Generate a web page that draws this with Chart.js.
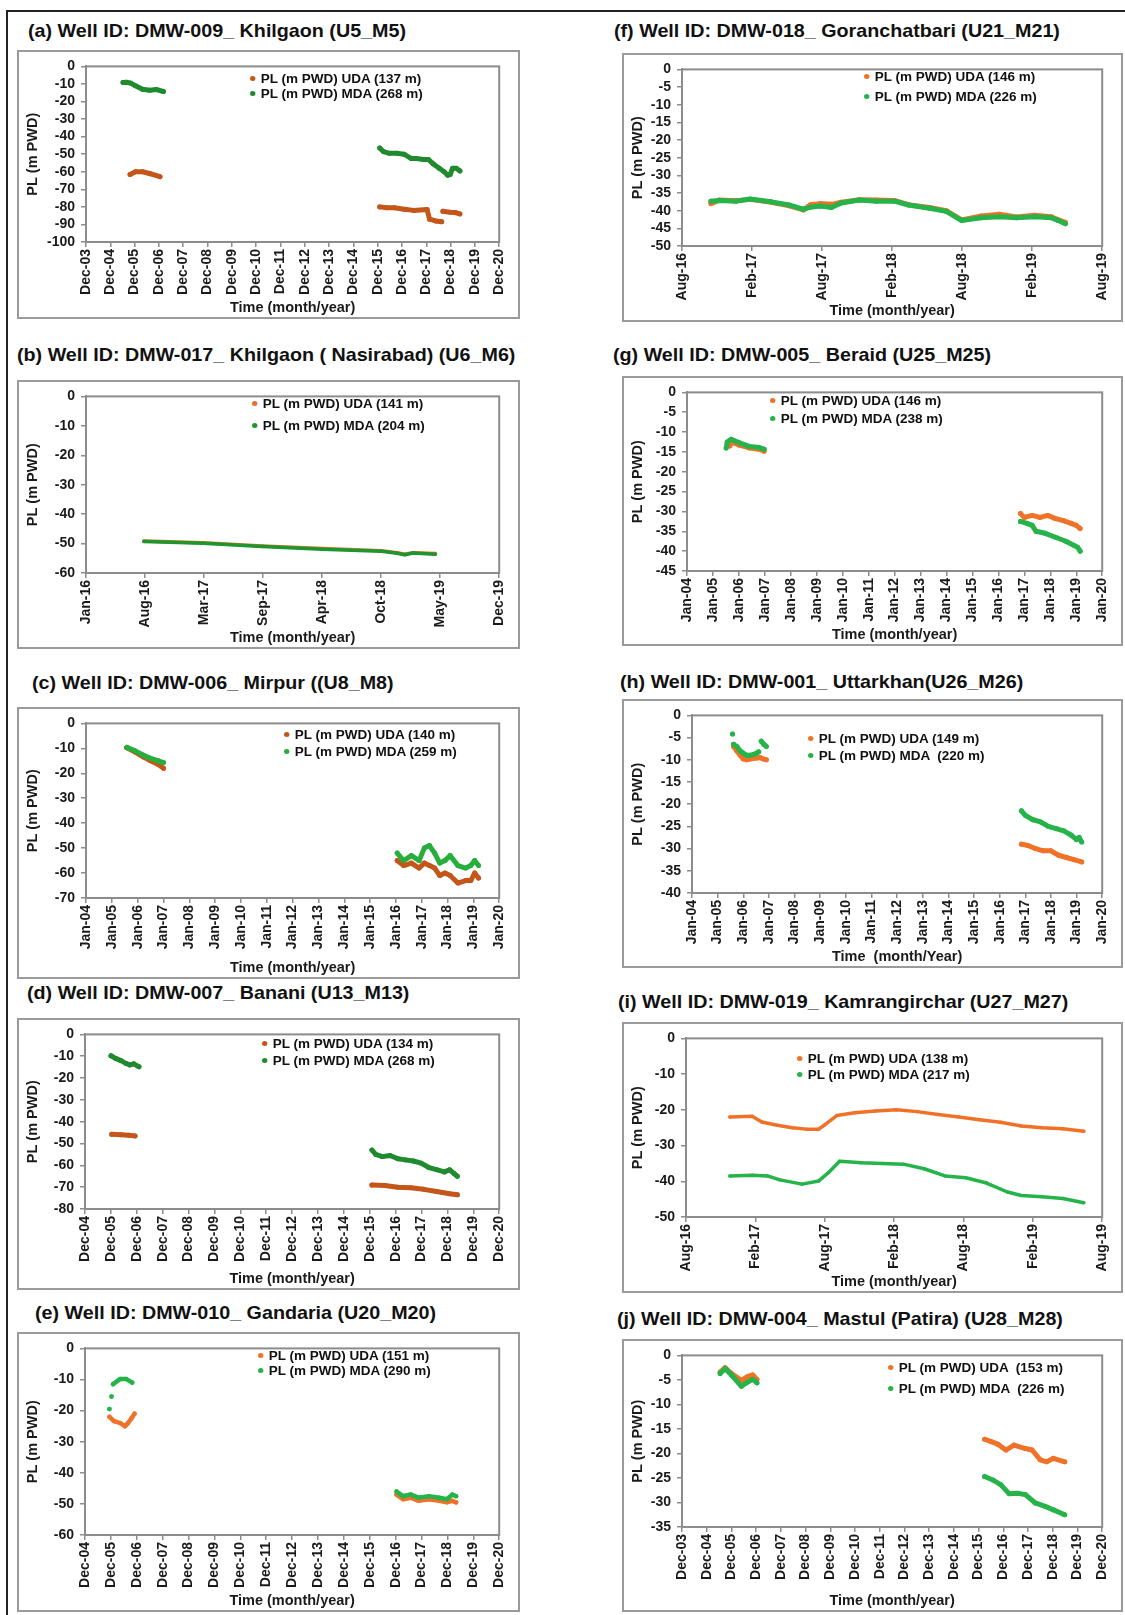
<!DOCTYPE html>
<html>
<head>
<meta charset="utf-8">
<script src="https://cdn.jsdelivr.net/npm/chart.js@4.4.1/dist/chart.umd.min.js"></script>
<style>
body { margin:0; background:#fff; width:1125px; height:1615px; position:relative; overflow:hidden; font-family:"Liberation Sans", Arial, sans-serif; }
#frame { position:absolute; left:6px; top:10px; width:1130px; height:1603px; border-left:2px solid #222; border-top:2px solid #222; border-bottom:2px solid #222; }
.ttl { position:absolute; font-weight:bold; font-size:18.5px; color:#111; white-space:pre; line-height:18px; transform:scaleX(1.065); transform-origin:0 50%; }
.box { position:absolute; border:2px solid #9a9a9a; box-sizing:border-box; background:#fff; }
.box canvas { position:absolute; left:0; top:0; }
.leg { position:absolute; font-weight:bold; font-size:12.5px; color:#111; white-space:pre; line-height:14px; transform:scaleX(1.08); transform-origin:0 50%; }
.leg i { display:inline-block; width:5px; height:5px; border-radius:50%; margin-right:5px; vertical-align:2px; }
</style>
</head>
<body>
<div id="frame"></div>
<script>
// tick labels
const DEC03_20 = ['Dec-03','Dec-04','Dec-05','Dec-06','Dec-07','Dec-08','Dec-09','Dec-10','Dec-11','Dec-12','Dec-13','Dec-14','Dec-15','Dec-16','Dec-17','Dec-18','Dec-19','Dec-20'];
const DEC04_20 = ['Dec-04','Dec-05','Dec-06','Dec-07','Dec-08','Dec-09','Dec-10','Dec-11','Dec-12','Dec-13','Dec-14','Dec-15','Dec-16','Dec-17','Dec-18','Dec-19','Dec-20'];
const JAN04_20 = ['Jan-04','Jan-05','Jan-06','Jan-07','Jan-08','Jan-09','Jan-10','Jan-11','Jan-12','Jan-13','Jan-14','Jan-15','Jan-16','Jan-17','Jan-18','Jan-19','Jan-20'];
const B_TICKS = ['Jan-16','Aug-16','Mar-17','Sep-17','Apr-18','Oct-18','May-19','Dec-19'];
const AUG16_19 = ['Aug-16','Feb-17','Aug-17','Feb-18','Aug-18','Feb-19','Aug-19'];

// series (time in decimal years, null = gap)
const A_UDA_T = [2005.73, 2005.95, 2006.24, 2006.53, 2006.96, 2011, 2016.0, 2016.3, 2016.6, 2017.0, 2017.4, 2017.95, 2018.05, 2018.3, 2018.55, 2018.57, 2018.6, 2018.9, 2019.1, 2019.3];
const A_UDA   = [-61.5, -60, -60, -61, -62.8, null, -80, -80.5, -80.5, -81.3, -82, -81.5, -87, -88, -88.5, null, -82.5, -83, -83.2, -84];
const A_MDA_T = [2005.44, 2005.58, 2005.75, 2005.95, 2006.24, 2006.53, 2006.82, 2007.1, 2011, 2016.0, 2016.15, 2016.4, 2016.7, 2017.0, 2017.3, 2017.5, 2017.8, 2018.0, 2018.2, 2018.45, 2018.65, 2018.8, 2018.9, 2019.0, 2019.15, 2019.3];
const A_MDA   = [-9.2, -9, -9.5, -11, -13, -13.6, -13.2, -14.3, null, -46.5, -48.5, -49.5, -49.5, -50, -52.5, -52.5, -53, -53, -55.5, -58, -60, -62, -61.5, -58, -58, -59.5];

const B_T   = [2016.55, 2017.11, 2017.67, 2018.24, 2018.8, 2018.95, 2019.02, 2019.1, 2019.31];
const B_UDA = [-49.1, -49.7, -50.8, -51.7, -52.4, -53.1, -53.6, -53.1, -53.4];
const B_MDA = [-49.3, -49.9, -51, -51.9, -52.6, -53.3, -53.8, -53.2, -53.6];

const C_T   = [2005.58, 2005.9, 2006.23, 2006.5, 2006.8, 2007.0, 2011, 2016.05, 2016.3, 2016.6, 2016.9, 2017.1, 2017.3, 2017.5, 2017.7, 2017.9, 2018.1, 2018.4, 2018.7, 2018.9, 2019.05, 2019.2];
const C_UDA = [-9.8, -11.5, -13.5, -15, -16.5, -18, null, -55, -57, -56, -58, -56, -57, -58, -61, -60, -61, -64, -63, -63, -60, -62];
const C_MDA = [-9.6, -11, -12.8, -14, -15, -15.7, null, -52, -55, -53, -55, -50, -49, -52, -56, -55, -53, -57, -58, -57, -55, -57];

const D_UDA_T = [2005.95, 2006.3, 2006.6, 2006.85, 2011, 2016.0, 2016.5, 2017.0, 2017.5, 2018.0, 2018.5, 2019.0, 2019.3];
const D_UDA   = [-45.8, -46, -46.2, -46.5, null, -69, -69.2, -70, -70.3, -71, -72, -73, -73.5];
const D_MDA_T = [2005.92, 2006.1, 2006.3, 2006.5, 2006.65, 2006.8, 2007.0, 2011, 2016.0, 2016.15, 2016.4, 2016.7, 2017.0, 2017.3, 2017.6, 2017.9, 2018.2, 2018.5, 2018.8, 2019.0, 2019.2, 2019.3];
const D_MDA   = [-9.8, -11, -12, -13.3, -14, -13.5, -14.8, null, -53, -55, -56, -55.5, -57, -57.5, -58, -59, -61, -62, -63, -62, -64, -65];

const E_UDA_T = [2005.86, 2006.04, 2006.28, 2006.46, 2006.58, 2006.7, 2006.83, 2011, 2016.95, 2017.2, 2017.5, 2017.8, 2018.2, 2018.6, 2018.9, 2019.1, 2019.25];
const E_UDA   = [-22, -23.4, -24, -25, -24, -22.6, -21, null, -47, -48.5, -48, -49, -48.5, -49, -49.5, -49, -49.5];
const E_MDA_T = [2005.86, 2005.9, 2005.94, 2005.97, 2006.0, 2006.28, 2006.5, 2006.74, 2011, 2016.95, 2017.2, 2017.5, 2017.8, 2018.2, 2018.6, 2018.9, 2019.1, 2019.25];
const E_MDA   = [-19.5, null, -15.5, null, -11.5, -9.8, -9.8, -11, null, -46, -47.5, -47, -48, -47.5, -48, -48.5, -47, -47.5];

const F_T   = [2016.79, 2016.85, 2016.97, 2017.07, 2017.22, 2017.35, 2017.45, 2017.5, 2017.57, 2017.65, 2017.72, 2017.85, 2017.97, 2018.1, 2018.2, 2018.35, 2018.47, 2018.58, 2018.72, 2018.85, 2018.97, 2019.1, 2019.22, 2019.27, 2019.32];
const F_UDA = [-38, -37, -37.2, -36.8, -37.6, -38.6, -39.8, -38.3, -38, -38.2, -37.6, -36.9, -37, -37.1, -38.3, -39.1, -40, -42.6, -41.5, -41, -41.8, -41.3, -41.7, -42.6, -43.3];
const F_MDA = [-37.3, -37.1, -37.3, -36.7, -37.5, -38.4, -39.6, -39, -38.7, -39.1, -37.8, -37, -37.3, -37.3, -38.4, -39.3, -40.2, -42.8, -42, -41.7, -42, -41.7, -42, -42.8, -43.7];

const G_UDA_T = [2005.65, 2005.7, 2006.02, 2006.4, 2006.78, 2006.97, 2011, 2016.85, 2017.0, 2017.3, 2017.6, 2017.9, 2018.2, 2018.5, 2018.8, 2019.0, 2019.15];
const G_UDA   = [-13.5, -12.5, -13.3, -14, -14.3, -14.8, null, -30.5, -31.5, -31, -31.5, -31, -31.8, -32.3, -33, -33.5, -34.3];
const G_MDA_T = [2005.51, 2005.55, 2005.7, 2006.02, 2006.4, 2006.78, 2006.97, 2011, 2016.85, 2017.1, 2017.3, 2017.45, 2017.8, 2018.2, 2018.6, 2018.9, 2019.05, 2019.15];
const G_MDA   = [-14, -12.5, -11.8, -12.7, -13.6, -13.9, -14.3, null, -32.5, -33, -33.5, -35, -35.5, -36.5, -37.5, -38.5, -39, -40];

const H_UDA_T = [2005.62, 2005.75, 2005.88, 2006.0, 2006.13, 2006.26, 2006.52, 2006.65, 2006.78, 2006.9, 2011, 2016.85, 2017.1, 2017.4, 2017.7, 2018.0, 2018.3, 2018.6, 2018.9, 2019.2];
const H_UDA   = [-7, -8, -9, -9.8, -10, -9.8, -9.6, -9.5, -9.8, -10, null, -29, -29.3, -30, -30.5, -30.5, -31.5, -32, -32.5, -33];
const H_MDA_T = [2005.58, 2005.6, 2005.62, 2005.75, 2005.88, 2006.0, 2006.13, 2006.26, 2006.4, 2006.52, 2006.6, 2006.65, 2006.7, 2006.8, 2006.9, 2011, 2016.85, 2017.0, 2017.3, 2017.6, 2017.9, 2018.2, 2018.5, 2018.8, 2019.0, 2019.1, 2019.2];
const H_MDA   = [-4.2, null, -6.5, -7, -8, -8.5, -9, -9, -8.8, -8.5, -8.2, null, -5.8, -6.5, -7, null, -21.5, -22.5, -23.5, -24, -25, -25.5, -26, -27, -28, -27.5, -28.5];

const I_UDA_T = [2016.9, 2017.06, 2017.13, 2017.24, 2017.35, 2017.45, 2017.54, 2017.58, 2017.67, 2017.8, 2017.95, 2018.1, 2018.25, 2018.4, 2018.55, 2018.7, 2018.85, 2019.0, 2019.15, 2019.3, 2019.45];
const I_UDA   = [-22, -21.8, -23.4, -24.3, -25, -25.4, -25.4, -24.3, -21.6, -20.8, -20.3, -20, -20.5, -21.3, -22, -22.8, -23.5, -24.5, -25, -25.3, -26];
const I_MDA_T = [2016.9, 2017.06, 2017.17, 2017.26, 2017.42, 2017.54, 2017.61, 2017.69, 2017.85, 2018.0, 2018.15, 2018.3, 2018.45, 2018.6, 2018.75, 2018.9, 2019.0, 2019.15, 2019.3, 2019.45];
const I_MDA   = [-38.5, -38.3, -38.5, -39.6, -40.8, -39.9, -37.6, -34.4, -34.8, -35, -35.2, -36.5, -38.5, -39, -40.5, -43, -44, -44.3, -44.8, -46];

const J_UDA_T = [2005.46, 2005.66, 2005.92, 2006.32, 2006.58, 2006.78, 2006.95, 2011, 2016.16, 2016.43, 2016.69, 2017.02, 2017.35, 2017.81, 2018.08, 2018.41, 2018.67, 2018.94, 2019.4];
const J_UDA   = [-3.4, -2.5, -3.7, -5.1, -4.3, -4, -4.9, null, -17.1, -17.6, -18.1, -19.3, -18.3, -19, -19.3, -21.3, -21.7, -21, -21.7];
const J_MDA_T = [2005.46, 2005.66, 2005.92, 2006.32, 2006.58, 2006.78, 2006.95, 2011, 2016.16, 2016.49, 2016.82, 2017.15, 2017.48, 2017.81, 2018.21, 2018.61, 2018.94, 2019.4];
const J_MDA   = [-3.7, -2.7, -4, -6.3, -5.4, -4.9, -5.6, null, -24.7, -25.4, -26.4, -28.2, -28.1, -28.4, -30.1, -30.8, -31.5, -32.5];

// colours
const UDA_DARK = '#c4561a', MDA_DARK = '#1f8a2e';
const UDA_LIGHT = '#f07228', MDA_LIGHT = '#25b34a';

// layout: box [l,t,r,b], plot [l,t,r,b], legend [dotX, row1Y, row2Y]
const PANELS = [
  { title:'(a) Well ID: DMW-009_ Khilgaon (U5_M5)', tx:28, ty:31, box:[17,50,520,319], plot:[86,64,513,242],
    ticks:DEC03_20, y:[-100,0,10], leg:[250,79,94], lw:5,
    s:[['PL (m PWD) UDA (137 m)',A_UDA_T,A_UDA,UDA_DARK],['PL (m PWD) MDA (268 m)',A_MDA_T,A_MDA,MDA_DARK]] },
  { title:'(b) Well ID: DMW-017_ Khilgaon ( Nasirabad) (U6_M6)', tx:17, ty:355, box:[17,380,520,649], plot:[86,392,509,573],
    ticks:B_TICKS, y:[-60,0,10], leg:[252,404,426], lw:3.5,
    s:[['PL (m PWD) UDA (141 m)',B_T,B_UDA,'#e0732a'],['PL (m PWD) MDA (204 m)',B_T,B_MDA,'#1e962f']] },
  { title:'(c) Well ID: DMW-006_ Mirpur ((U8_M8)', tx:32, ty:683, box:[17,707,520,979], plot:[86,718,510,898],
    ticks:JAN04_20, y:[-70,0,10], leg:[284,735,752], lw:5,
    s:[['PL (m PWD) UDA (140 m)',C_T,C_UDA,UDA_DARK],['PL (m PWD) MDA (259 m)',C_T,C_MDA,'#27ae3c']] },
  { title:'(d) Well ID: DMW-007_ Banani (U13_M13)', tx:27, ty:993, box:[17,1018,520,1290], plot:[85,1032,510,1209],
    ticks:DEC04_20, y:[-80,0,10], leg:[262,1044,1061], lw:5,
    s:[['PL (m PWD) UDA (134 m)',D_UDA_T,D_UDA,UDA_DARK],['PL (m PWD) MDA (268 m)',D_MDA_T,D_MDA,MDA_DARK]] },
  { title:'(e) Well ID: DMW-010_ Gandaria (U20_M20)', tx:35, ty:1313, box:[17,1332,520,1612], plot:[85,1345,510,1535],
    ticks:DEC04_20, y:[-60,0,10], leg:[258,1356,1371], lw:4.5,
    s:[['PL (m PWD) UDA (151 m)',E_UDA_T,E_UDA,UDA_LIGHT],['PL (m PWD) MDA (290 m)',E_MDA_T,E_MDA,MDA_LIGHT]] },
  { title:'(f) Well ID: DMW-018_ Goranchatbari (U21_M21)', tx:614, ty:31, box:[622,53,1123,322], plot:[682,63,1110,246],
    ticks:AUG16_19, y:[-50,0,5], leg:[864,77,97], lw:5,
    s:[['PL (m PWD) UDA (146 m)',F_T,F_UDA,UDA_LIGHT],['PL (m PWD) MDA (226 m)',F_T,F_MDA,MDA_LIGHT]] },
  { title:'(g) Well ID: DMW-005_ Beraid (U25_M25)', tx:613, ty:355, box:[622,376,1123,646], plot:[687,390,1105,571],
    ticks:JAN04_20, y:[-45,0,5], leg:[770,401,419], lw:5,
    s:[['PL (m PWD) UDA (146 m)',G_UDA_T,G_UDA,UDA_LIGHT],['PL (m PWD) MDA (238 m)',G_MDA_T,G_MDA,MDA_LIGHT]] },
  { title:'(h) Well ID: DMW-001_ Uttarkhan(U26_M26)', tx:620, ty:682, box:[622,699,1123,968], plot:[692,712,1105,893],
    ticks:JAN04_20, y:[-40,0,5], leg:[808,739,756], lw:5, xTitle:'Time  (month/Year)',
    s:[['PL (m PWD) UDA (149 m)',H_UDA_T,H_UDA,UDA_LIGHT],['PL (m PWD) MDA  (220 m)',H_MDA_T,H_MDA,MDA_LIGHT]] },
  { title:'(i) Well ID: DMW-019_ Kamrangirchar (U27_M27)', tx:618, ty:1002, box:[622,1022,1123,1293], plot:[686,1035,1112,1217],
    ticks:AUG16_19, y:[-50,0,10], leg:[797,1059,1075], lw:3.5,
    s:[['PL (m PWD) UDA (138 m)',I_UDA_T,I_UDA,UDA_LIGHT],['PL (m PWD) MDA (217 m)',I_MDA_T,I_MDA,MDA_LIGHT]] },
  { title:'(j) Well ID: DMW-004_ Mastul (Patira) (U28_M28)', tx:617, ty:1319, box:[622,1339,1123,1612], plot:[682,1355,1112,1527],
    ticks:DEC03_20, y:[-35,0,5], leg:[888,1368,1389], lw:5,
    s:[['PL (m PWD) UDA  (153 m)',J_UDA_T,J_UDA,UDA_LIGHT],['PL (m PWD) MDA  (226 m)',J_MDA_T,J_MDA,MDA_LIGHT]] }
];

const MONTHS = ['Jan','Feb','Mar','Apr','May','Jun','Jul','Aug','Sep','Oct','Nov','Dec'];
function labelYear(l) {
  const [m, y] = l.split('-');
  return 2000 + Number(y) + MONTHS.indexOf(m) / 12;
}

Chart.defaults.font.family = '"Liberation Sans", Arial, sans-serif';
Chart.defaults.font.weight = 'bold';
Chart.defaults.color = '#1a1a1a';

// grey frame round the plot area
const plotFrame = {
  id: 'plotFrame',
  beforeDatasetsDraw(chart) {
    const a = chart.chartArea, ctx = chart.ctx;
    ctx.save();
    ctx.strokeStyle = '#8c8c8c';
    ctx.lineWidth = 2;
    ctx.strokeRect(a.left, a.top, a.right - a.left, a.bottom - a.top);
    ctx.restore();
  }
};

function add(el, cls, css, html) {
  const d = document.createElement(el);
  d.className = cls;
  Object.assign(d.style, css);
  if (html !== undefined) d.innerHTML = html;
  document.body.appendChild(d);
  return d;
}

for (const p of PANELS) {
  add('div', 'ttl', { left: p.tx + 'px', top: (p.ty - 9) + 'px' }).textContent = p.title;
  const [bl, bt, br, bb] = p.box;
  const [pl, pt, pr, pb] = p.plot;
  const box = add('div', 'box', { left: bl + 'px', top: bt + 'px', width: (br - bl) + 'px', height: (bb - bt) + 'px' });
  const cv = document.createElement('canvas');
  cv.width = br - bl - 4; cv.height = bb - bt - 4;
  box.appendChild(cv);

  const x0 = labelYear(p.ticks[0]), x1 = labelYear(p.ticks[p.ticks.length - 1]);
  const n = p.ticks.length;
  const tickVals = p.ticks.map((_, i) => x0 + (x1 - x0) * i / (n - 1));
  const yVals = [];
  for (let v = p.y[0]; v <= p.y[1] + 1e-9; v += p.y[2]) yVals.push(v);

  // MDA first so it sits on top
  const datasets = p.s.slice().reverse().map(([label, t, v, col]) => ({
    label,
    data: t.map((x, i) => ({ x, y: v[i] })),
    borderColor: col, backgroundColor: col,
    borderWidth: p.lw, pointRadius: p.lw / 2, pointHoverRadius: 0, pointBorderWidth: 0,
    borderCapStyle: 'round', borderJoinStyle: 'round', tension: 0, spanGaps: false
  }));

  new Chart(cv, {
    type: 'line',
    data: { datasets },
    plugins: [plotFrame],
    options: {
      responsive: false, animation: false, events: [],
      layout: { padding: { top: pt - bt - 2, right: br - 2 - pr, left: 0, bottom: 0 } },
      plugins: { legend: { display: false }, tooltip: { enabled: false } },
      scales: {
        x: {
          type: 'linear', min: x0, max: x1,
          afterFit: s => { s.height = bb - 2 - pb; },
          afterBuildTicks: s => { s.ticks = tickVals.map(value => ({ value })); },
          ticks: { autoSkip: false, minRotation: 90, maxRotation: 90, padding: 2, font: { size: 14 },
                   callback: (v, i) => p.ticks[i] },
          grid: { drawOnChartArea: false, drawTicks: true, tickLength: 5, color: '#8c8c8c', lineWidth: 1.5 },
          border: { display: true, color: '#8c8c8c', width: 2 },
          title: { display: true, text: p.xTitle || 'Time (month/year)', font: { size: 14.5 }, padding: { top: 0, bottom: 0 } }
        },
        y: {
          min: p.y[0], max: p.y[1],
          afterFit: s => { s.width = pl - bl - 2; },
          afterBuildTicks: s => { s.ticks = yVals.map(value => ({ value })); },
          ticks: { autoSkip: false, padding: 6, font: { size: 14 } },
          grid: { drawOnChartArea: false, drawTicks: true, tickLength: 5, color: '#8c8c8c', lineWidth: 1.5 },
          border: { display: true, color: '#8c8c8c', width: 2 },
          title: { display: true, text: 'PL (m PWD)', font: { size: 14.5 }, padding: { top: 5, bottom: 0 } }
        }
      }
    }
  });

  // legend
  p.s.forEach(([label, , , col], i) => {
    const y = p.leg[1 + i];
    add('div', 'leg', { left: p.leg[0] + 'px', top: (y - 7) + 'px' },
      '<i style="background:' + col + '"></i>' + label);
  });
}
</script>
</body>
</html>
